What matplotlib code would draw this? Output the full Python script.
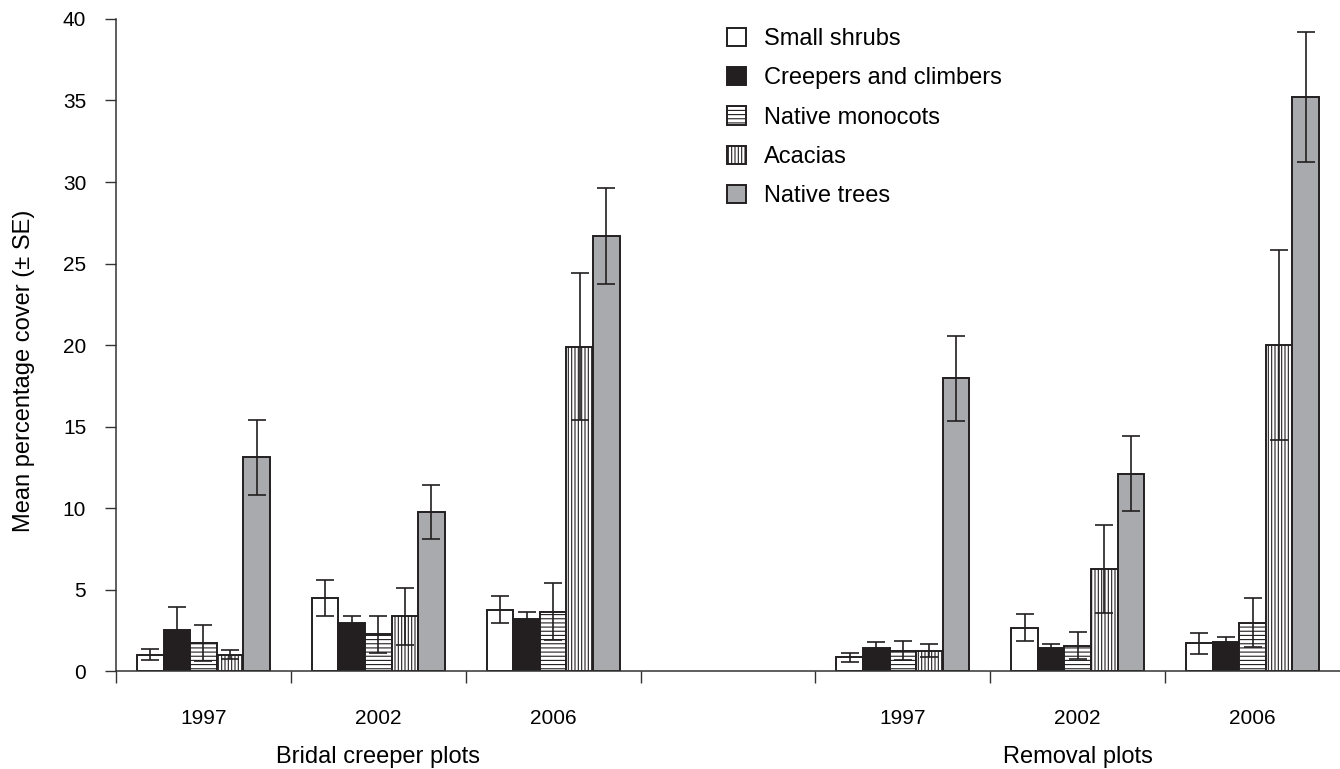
import matplotlib
matplotlib.use("Agg")
import matplotlib.pyplot as plt
import numpy as np

plt.rcParams["font.family"] = ["Liberation Sans", "DejaVu Sans"]
plt.rcParams["hatch.linewidth"] = 0.8

years = ["1997", "2002", "2006", "1997", "2002", "2006"]
plot_types = ["Bridal creeper plots", "Removal plots"]
groups = ["Small shrubs", "Creepers and climbers", "Native monocots", "Acacias", "Native trees"]

# mean cover, order: bridal 1997, 2002, 2006, removal 1997, 2002, 2006
small_shrubs = [1.0, 4.5, 3.75, 0.85, 2.65, 1.7]
creepers = [2.5, 2.95, 3.2, 1.4, 1.4, 1.8]
monocots = [1.7, 2.25, 3.65, 1.25, 1.55, 2.95]
acacias = [1.0, 3.35, 19.9, 1.25, 6.25, 20.0]
native_trees = [13.1, 9.75, 26.7, 17.95, 12.1, 35.2]

# standard errors
small_shrubs_se = [0.35, 1.1, 0.83, 0.28, 0.83, 0.63]
creepers_se = [1.4, 0.4, 0.4, 0.4, 0.27, 0.3]
monocots_se = [1.1, 1.15, 1.75, 0.6, 0.83, 1.5]
acacias_se = [0.28, 1.75, 4.5, 0.4, 2.7, 5.8]
native_trees_se = [2.3, 1.65, 2.95, 2.6, 2.3, 4.0]

means = [small_shrubs, creepers, monocots, acacias, native_trees]
errs = [small_shrubs_se, creepers_se, monocots_se, acacias_se, native_trees_se]
faces = ["white", "#231f20", "white", "white", "#a9aaad"]
hatches = [None, None, "----", "|||||", None]

fig = plt.figure(figsize=(13.4, 7.69), dpi=100)
ax = fig.add_axes([0.0866, 0.1274, 0.9134, 0.8479])

# slot 3 is left empty between the two plot types
x = np.array([0, 1, 2, 4, 5, 6])
w = 0.152

for i in range(5):
    pos = x + (i - 2) * w
    ax.bar(pos, means[i], w, color=faces[i], edgecolor="#231f20",
           linewidth=1.4, hatch=hatches[i], label=groups[i], zorder=2)
    ax.errorbar(pos, means[i], yerr=errs[i], fmt="none", ecolor="#231f20",
                elinewidth=1.2, capsize=6.5, capthick=1.2, zorder=3)

ax.set_xlim(-0.5, 6.5)
ax.set_ylim(0, 40)
ax.set_yticks(range(0, 41, 5))

ax.set_xticks(x)
ax.set_xticklabels(years)
ax.set_xticks(np.arange(-0.5, 6.0, 1.0), minor=True)
ax.tick_params(axis="x", which="major", length=0, pad=27, labelsize=15)
ax.tick_params(axis="x", which="minor", length=8.5, width=1, color="#333333")
ax.tick_params(axis="y", length=8, width=1, color="#333333", labelsize=15, pad=13.5)

for s in ["top", "right"]:
    ax.spines[s].set_visible(False)
for s in ["left", "bottom"]:
    ax.spines[s].set_color("#333333")
    ax.spines[s].set_linewidth(1.1)

ax.set_ylabel("Mean percentage cover (\u00b1 SE)", fontsize=17)
ax.yaxis.set_label_coords(-0.066, 0.46)

ax.text(1, -0.132, plot_types[0], transform=ax.get_xaxis_transform(),
        ha="center", va="center", fontsize=17)
ax.text(5, -0.132, plot_types[1], transform=ax.get_xaxis_transform(),
        ha="center", va="center", fontsize=17)

ax.legend(loc="upper left", bbox_to_anchor=(727 / 1340, 1 - 28 / 769),
          bbox_transform=fig.transFigure, frameon=False, fontsize=17,
          handlelength=0.8, handleheight=0.8, handletextpad=0.75,
          labelspacing=0.72, borderpad=0, borderaxespad=0)

fig.savefig("out.png", dpi=100)
